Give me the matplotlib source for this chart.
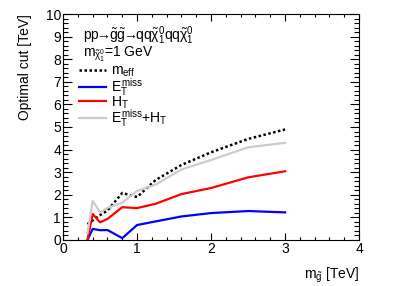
import numpy as np
import matplotlib
matplotlib.use("Agg")
import matplotlib.pyplot as plt
from matplotlib.ticker import MultipleLocator

plt.rcParams['font.family'] = ['Liberation Sans', 'DejaVu Sans']
plt.rcParams['mathtext.fontset'] = 'custom'
plt.rcParams['mathtext.rm'] = 'Liberation Sans'
plt.rcParams['mathtext.it'] = 'Liberation Sans'
plt.rcParams['mathtext.bf'] = 'Liberation Sans:bold'

# gluino mass [TeV]
m_gluino = [0.33, 0.4, 0.5, 0.6, 0.8, 1.0, 1.25, 1.6, 2.0, 2.5, 3.0]
# optimal cut values [TeV]
cut_meff = [0.70, 0.86, 1.10, 1.30, 2.08, 1.90, 2.65, 3.32, 3.88, 4.47, 4.89]
cut_met = [0.00, 0.49, 0.43, 0.44, 0.08, 0.66, 0.82, 1.04, 1.19, 1.28, 1.22]
cut_ht = [0.00, 1.15, 0.78, 0.93, 1.45, 1.41, 1.60, 2.03, 2.30, 2.77, 3.04]
cut_met_ht = [0.30, 1.73, 1.22, 1.42, 1.65, 2.17, 2.45, 3.12, 3.54, 4.10, 4.30]

fs = 10

fig = plt.figure(figsize=(3.99, 2.86), dpi=100)
ax = fig.add_axes([0.158, 0.161, 0.742, 0.79])

ax.plot(m_gluino, cut_meff, color='black', lw=1.8, ls=(0, (1, 1)), label=r'$m_{eff}$')
ax.plot(m_gluino, cut_met, color='#0000ff', lw=1.6, label=r'$E_T^{miss}$')
ax.plot(m_gluino, cut_ht, color='#ff0000', lw=1.6, label=r'$H_T$')
ax.plot(m_gluino, cut_met_ht, color='#cccccc', lw=1.6, label=r'$E_T^{miss}$+$H_T$')

ax.set_xlim(0, 4)
ax.set_ylim(0, 10)
ax.xaxis.set_major_locator(MultipleLocator(1))
ax.xaxis.set_minor_locator(MultipleLocator(0.2))
ax.yaxis.set_major_locator(MultipleLocator(1))
ax.yaxis.set_minor_locator(MultipleLocator(0.2))
ax.tick_params(which='both', direction='in', top=True, right=True, labelsize=fs, pad=1.5, width=0.8)
ax.tick_params(axis='x', which='major', length=5)
ax.tick_params(axis='x', which='minor', length=2.5)
ax.tick_params(axis='y', which='major', length=6.5)
ax.tick_params(axis='y', which='minor', length=3.5)
for s in ax.spines.values():
    s.set_linewidth(0.8)

ax.set_xlabel(r'$m_{\tilde{g}}$ [TeV]', fontsize=fs, loc='right', labelpad=7)
ax.set_ylabel('Optimal cut [TeV]', fontsize=fs, loc='top', labelpad=10)

ax.text(0.068, 0.905, r'$pp\!\!\rightarrow\!\!\tilde{g}\tilde{g}\!\!\rightarrow\!\!qq\tilde{\chi}^{0}_{1}qq\tilde{\chi}^{0}_{1}$',
        transform=ax.transAxes, fontsize=fs, va='center', ha='left')
ax.text(0.068, 0.82, r'$m_{\tilde{\chi}^{0}_{1}}$=1 GeV',
        transform=ax.transAxes, fontsize=fs, va='center', ha='left')

ax.legend(loc='upper left', bbox_to_anchor=(0.05, 0.785), frameon=False, fontsize=fs,
          handlelength=1.9, handletextpad=0.4, labelspacing=-0.25, borderaxespad=0, borderpad=0.1)

fig.savefig('out.png', dpi=100)
